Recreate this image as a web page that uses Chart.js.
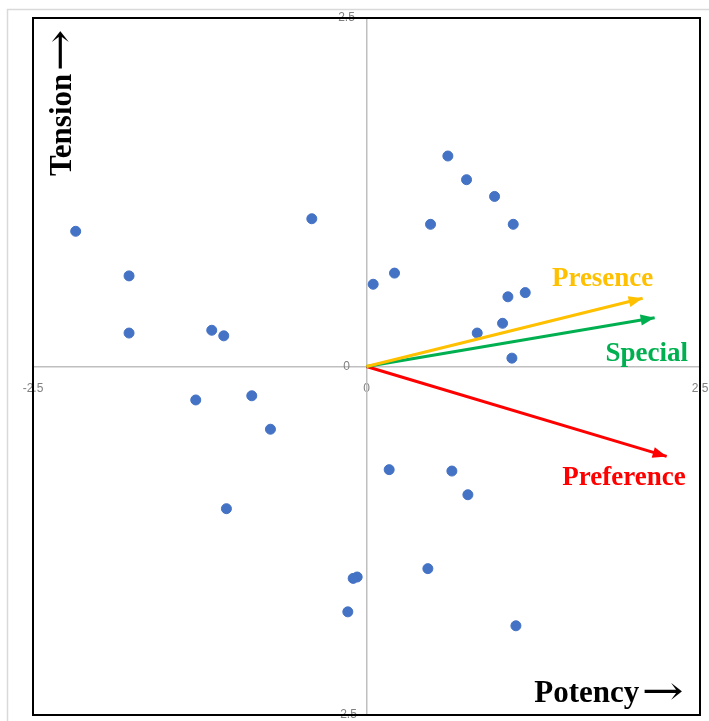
<!DOCTYPE html>
<html>
<head>
<meta charset="utf-8">
<script src="https://cdn.jsdelivr.net/npm/chart.js@4.4.1/dist/chart.umd.min.js"></script>
<style>
  html, body { margin: 0; padding: 0; background: #fff; }
  #wrap { position: relative; width: 709px; height: 721px; }
</style>
</head>
<body>
<div id="wrap"><canvas id="map"></canvas></div>
<script>
// sample positions (Potency on x, Tension on y)
const potency = [0.61, 0.75, 0.96, 1.10, 0.48, -0.41, -2.18, -1.78, 0.21, 0.05,
                 1.06, 1.19, -1.78, -1.16, -1.07, 1.02, 0.83, 1.09, -1.28, -0.86,
                 -0.72, 0.17, 0.64, 0.76, -1.05, 0.46, -0.07, -0.10, -0.14, 1.12];
const tension = [1.51, 1.34, 1.22, 1.02, 1.02, 1.06, 0.97, 0.65, 0.67, 0.59,
                 0.50, 0.53, 0.24, 0.26, 0.22, 0.31, 0.24, 0.06, -0.24, -0.21,
                 -0.45, -0.74, -0.75, -0.92, -1.02, -1.45, -1.51, -1.52, -1.76, -1.86];

// attribute vectors
const vectorNames = ['Presence', 'Special', 'Preference'];
const vectorX = [2.07, 2.16, 2.25];
const vectorY = [0.49, 0.35, -0.645];
const vectorColors = ['#FFC000', '#00B050', '#FF0000'];
// where each vector's name sits (data units)
const vectorLabelX = [1.77, 2.10, 1.93];
const vectorLabelY = [0.625, 0.087, -0.80];

const axisMin = -2.5, axisMax = 2.5, axisStep = 2.5;

const points = potency.map((p, i) => ({ x: p, y: tension[i] }));

const datasets = [{
  label: 'samples',
  data: points,
  backgroundColor: '#4472C4',
  borderColor: '#4472C4',
  pointRadius: 5,
  pointHoverRadius: 5,
  order: 2
}];
vectorNames.forEach((name, i) => {
  datasets.push({
    type: 'line',
    label: name,
    data: [{ x: 0, y: 0 }, { x: vectorX[i], y: vectorY[i] }],
    borderColor: vectorColors[i],
    backgroundColor: vectorColors[i],
    borderWidth: 3,
    pointRadius: 0,
    fill: false,
    order: 1,
    isVector: true
  });
});

const serif = '"Liberation Serif", "Times New Roman", serif';

// draws "text →": arrow glyph's visible right edge at x, text middle at y
function labelWithArrow(c, text, x, y) {
  c.textAlign = 'left';
  c.textBaseline = 'middle';
  c.font = '40px "DejaVu Serif", serif';
  const m = c.measureText('\u2192');
  const sx = 1.25;
  const aw = (m.actualBoundingBoxRight + m.actualBoundingBoxLeft) * sx;
  const dy = (m.actualBoundingBoxAscent - m.actualBoundingBoxDescent) / 2;
  c.save();
  c.translate(x - m.actualBoundingBoxRight * sx, y - 3 + dy);
  c.scale(sx, 1);
  c.fillText('\u2192', 0, 0);
  c.restore();
  c.font = 'bold 31px ' + serif;
  const wt = c.measureText(text).width;
  c.fillText(text, x - aw - 5 - wt, y);
}

const framePlugin = {
  id: 'frame',
  beforeDraw(chart) {
    const c = chart.ctx;
    c.save();
    c.fillStyle = '#fff';
    c.fillRect(0, 0, chart.width, chart.height);
    c.strokeStyle = '#D9D9D9';
    c.lineWidth = 1.5;
    c.strokeRect(7.5, 9.5, chart.width + 20, chart.height + 20);
    c.restore();
  },
  afterDatasetsDraw(chart) {
    const c = chart.ctx;
    // arrow heads
    chart.data.datasets.forEach((ds, di) => {
      if (!ds.isVector) return;
      const pts = chart.getDatasetMeta(di).data;
      const a = pts[0], b = pts[1];
      const ang = Math.atan2(b.y - a.y, b.x - a.x);
      const len = 14, half = 5.5;
      c.save();
      c.fillStyle = ds.borderColor;
      c.translate(b.x, b.y);
      c.rotate(ang);
      c.beginPath();
      c.moveTo(0, 0);
      c.lineTo(-len, -half);
      c.lineTo(-len, half);
      c.closePath();
      c.fill();
      c.restore();
    });
  },
  afterDraw(chart) {
    const c = chart.ctx;
    const area = chart.chartArea;
    const xs = chart.scales.x, ys = chart.scales.y;
    c.save();
    // y tick labels, centred left of the vertical axis
    c.font = '12px "Liberation Sans", Arial, sans-serif';
    c.fillStyle = '#808080';
    c.textAlign = 'center';
    c.textBaseline = 'middle';
    const x0 = xs.getPixelForValue(0);
    ys.ticks.forEach(t => {
      c.fillText(String(t.value), x0 - 20, ys.getPixelForValue(t.value));
    });
    // black plot frame
    c.strokeStyle = '#000';
    c.lineWidth = 2;
    c.strokeRect(area.left, area.top, area.right - area.left, area.bottom - area.top);
    // vector names
    c.font = 'bold 27px ' + serif;
    c.textBaseline = 'middle';
    c.textAlign = 'center';
    vectorNames.forEach((n, i) => {
      c.fillStyle = vectorColors[i];
      c.fillText(n, xs.getPixelForValue(vectorLabelX[i]), ys.getPixelForValue(vectorLabelY[i]));
    });
    // axis names
    c.fillStyle = '#000';
    labelWithArrow(c, 'Potency', area.right - 17, area.bottom - 21);
    c.translate(area.left + 30, area.top + 12);
    c.rotate(-Math.PI / 2);
    labelWithArrow(c, 'Tension', 0, 0);
    c.restore();
  }
};

new Chart(document.getElementById('map'), {
  type: 'scatter',
  data: { datasets: datasets },
  options: {
    responsive: true,
    maintainAspectRatio: false,
    animation: false,
    layout: { padding: { left: 33, top: 18, right: 9, bottom: 6 } },
    plugins: {
      legend: { display: false },
      tooltip: { enabled: false },
      title: { display: false }
    },
    scales: {
      x: {
        type: 'linear',
        position: { y: 0 },
        min: axisMin, max: axisMax,
        grid: { display: false, drawTicks: false },
        border: { display: true, color: '#BFBFBF', width: 1.5 },
        ticks: {
          stepSize: axisStep,
          padding: 0,
          color: '#808080',
          font: { family: '"Liberation Sans", Arial, sans-serif', size: 12, lineHeight: '44px' },
          maxRotation: 0
        }
      },
      y: {
        type: 'linear',
        position: { x: 0 },
        min: axisMin, max: axisMax,
        grid: { display: false, drawTicks: false },
        border: { display: true, color: '#BFBFBF', width: 1.5 },
        ticks: {
          stepSize: axisStep,
          display: false
        }
      }
    }
  },
  plugins: [framePlugin]
});
</script>
</body>
</html>
